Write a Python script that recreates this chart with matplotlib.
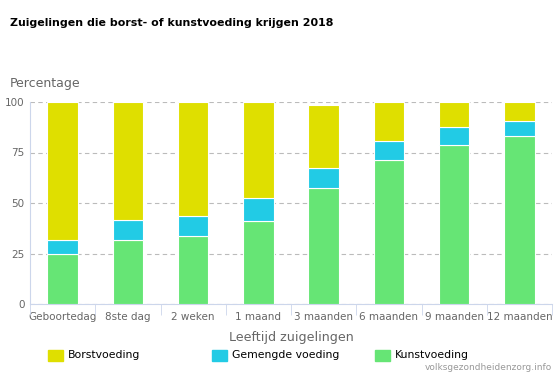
import matplotlib.pyplot as plt
import numpy as np
from matplotlib.patches import Rectangle

#data
categories = ['Geboortedag', '8ste dag', '2 weken', '1 maand', '3 maanden', '6 maanden', '9 maanden', '12 maanden']
kunst = [25, 31.5, 33.5, 41, 57.5, 71.5, 78.5, 83]
gemengd = [6.5, 10, 10, 11.5, 10, 9, 9, 7.5]
borst = [68.5, 58.5, 56.5, 47.5, 31, 19.5, 12.5, 9.5]
series_names = ['Borstvoeding', 'Gemengde voeding', 'Kunstvoeding']

c_borst = '#dfdf00'
c_gem = '#22cbe5'
c_kunst = '#66e575'
grey = '#666666'

W, H = 560, 373
fig = plt.figure(figsize=(5.6, 3.73), dpi=100)
ax = fig.add_axes([30/W, 1-304/H, 522/W, 202/H])

x = np.arange(len(categories))
kunst = np.array(kunst)
gemengd = np.array(gemengd)
borst = np.array(borst)
w = 0.47
ax.bar(x, kunst, w, color=c_kunst, edgecolor='white', linewidth=0.8, zorder=3)
ax.bar(x, gemengd, w, bottom=kunst, color=c_gem, edgecolor='white', linewidth=0.8, zorder=3)
ax.bar(x, borst, w, bottom=kunst+gemengd, color=c_borst, edgecolor='white', linewidth=0.8, zorder=3)

ax.set_xlim(-0.5, len(categories)-0.5)
ax.set_ylim(0, 100)
ax.set_yticks([0, 25, 50, 75, 100])
ax.set_xticks(x)
ax.set_xticklabels(categories)
ax.set_xticks(np.arange(-0.5, len(categories)), minor=True)
ax.tick_params(axis='x', which='major', length=0, labelsize=7.5, colors=grey, pad=6)
ax.tick_params(axis='x', which='minor', length=8, color='#ccd6eb')
ax.tick_params(axis='y', length=0, labelsize=7.5, colors=grey, pad=4)
ax.grid(axis='y', color='#bbbbbb', linestyle=(0, (4, 3)), linewidth=0.8, zorder=0)
for s in ['top', 'right']:
    ax.spines[s].set_visible(False)
ax.spines['left'].set_color('#ccd6eb')
ax.spines['bottom'].set_color('#ccd6eb')

fig.text(10/W, 1-23/H, 'Zuigelingen die borst- of kunstvoeding krijgen 2018', fontsize=7.9,
         fontweight='bold', color='black', va='center')
fig.text(10/W, 1-84/H, 'Percentage', fontsize=9, color=grey, va='center')
fig.text(291/W, 1-338/H, 'Leeftijd zuigelingen', fontsize=9.1, color=grey, va='center', ha='center')

#legend drawn by hand to match the layout
leg_colors = [c_borst, c_gem, c_kunst]
leg_x = [48, 212, 375]
for name, col, lx in zip(series_names, leg_colors, leg_x):
    fig.patches.append(Rectangle((lx/W, 1-361/H), 15/W, 11/H, color=col, transform=fig.transFigure))
    fig.text((lx+20)/W, 1-355.5/H, name, fontsize=7.8, color='black', va='center')
fig.text(552/W, 1-367/H, 'volksgezondheidenzorg.info', fontsize=6.5, color='#999999', ha='right', va='center')

fig.savefig('out.png', dpi=100)
